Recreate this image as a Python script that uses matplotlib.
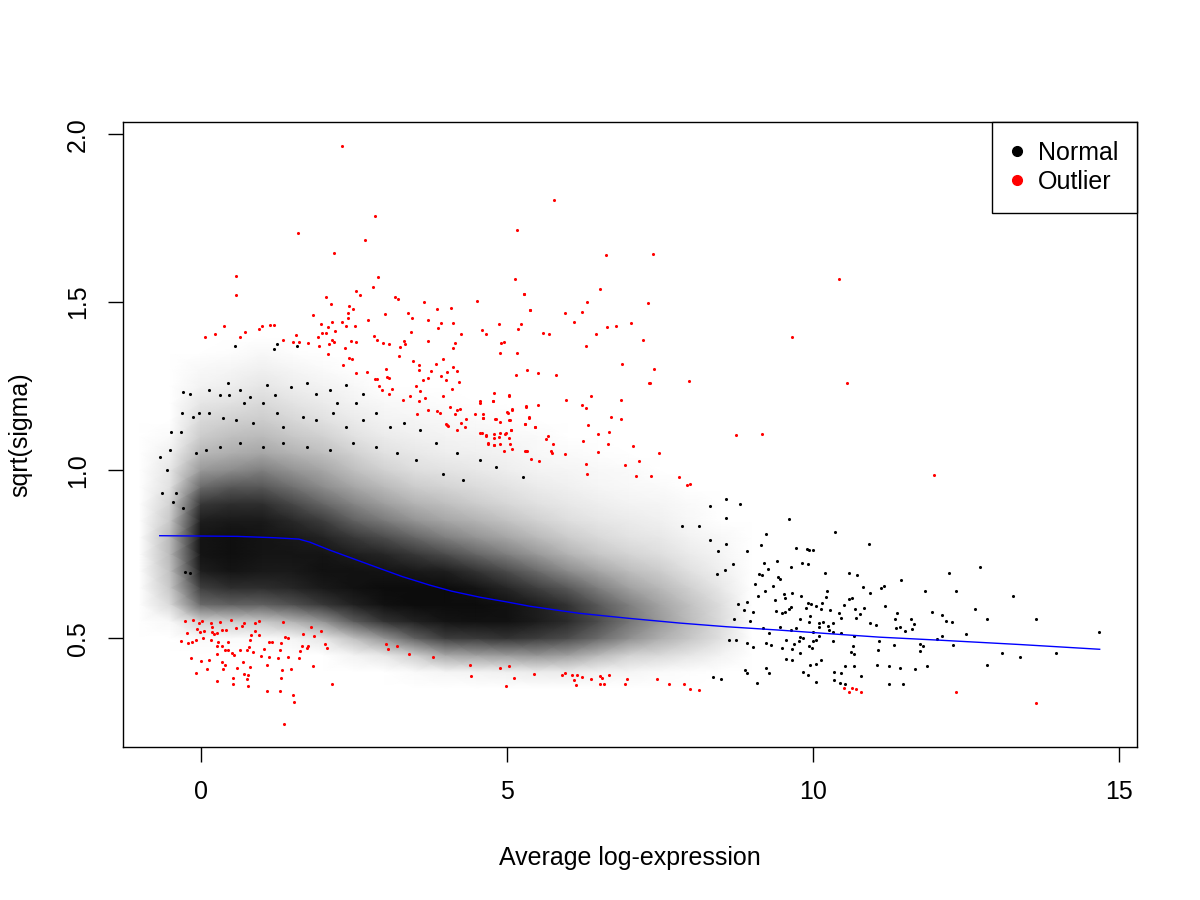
import numpy as np
import matplotlib
matplotlib.use('Agg')
import matplotlib.pyplot as plt
from matplotlib.colors import LinearSegmentedColormap
from matplotlib.lines import Line2D

plt.rcParams['font.family'] = ['Liberation Sans', 'DejaVu Sans']

# ink coverage (percent) of the dense cloud of normal genes
grid_x = [-1.0, -0.5, 0.0, 0.5, 1.0, 1.5, 2.0, 2.5, 3.0, 3.5, 4.0, 4.5,
          5.0, 5.5, 6.0, 6.5, 7.0, 7.5, 8.0, 8.5, 9.0]
grid_y = [0.30, 0.35, 0.40, 0.45, 0.50, 0.55, 0.60, 0.65, 0.70, 0.75, 0.80, 0.85,
          0.90, 0.95, 1.00, 1.05, 1.10, 1.15, 1.20, 1.25, 1.30, 1.35, 1.40]
# one list per grid_x column, bottom (y=0.30) to top (y=1.40)
grid_ink = [
    [0, 0, 0, 0, 0, 0, 0, 0, 0, 0, 0, 0, 0, 0, 0, 0, 0, 0, 0, 0, 0, 0, 0],
    [0, 0, 0, 0, 0, 3, 15, 22, 25, 28, 28, 22, 18, 12, 10, 6, 2, 0, 0, 0, 0, 0, 0],
    [0, 0, 0, 0, 2, 18, 58, 75, 88, 92, 92, 88, 78, 58, 40, 28, 20, 15, 10, 5, 3, 0, 0],
    [0, 0, 0, 0, 2, 20, 62, 82, 92, 94, 94, 90, 82, 66, 45, 32, 25, 18, 12, 7, 4, 1, 0],
    [0, 0, 0, 0, 2, 22, 62, 82, 90, 92, 92, 90, 82, 66, 50, 35, 27, 20, 15, 10, 6, 3, 0],
    [0, 0, 0, 0, 4, 30, 68, 85, 90, 92, 90, 84, 72, 56, 42, 30, 22, 16, 11, 7, 4, 1, 0],
    [0, 0, 0, 0, 10, 42, 78, 90, 93, 92, 86, 76, 60, 45, 35, 25, 18, 12, 8, 5, 2, 0, 0],
    [0, 0, 0, 5, 25, 64, 87, 93, 93, 88, 78, 62, 48, 35, 25, 18, 12, 8, 5, 3, 0, 0, 0],
    [0, 0, 0, 10, 42, 80, 93, 95, 92, 85, 70, 52, 38, 27, 18, 12, 8, 5, 3, 0, 0, 0, 0],
    [0, 0, 2, 20, 62, 87, 95, 95, 90, 78, 60, 42, 30, 20, 13, 9, 6, 4, 2, 0, 0, 0, 0],
    [0, 0, 4, 35, 76, 92, 95, 95, 88, 70, 50, 35, 25, 17, 11, 7, 5, 3, 1, 0, 0, 0, 0],
    [0, 0, 5, 38, 77, 93, 95, 92, 80, 60, 42, 30, 20, 14, 9, 6, 4, 2, 0, 0, 0, 0, 0],
    [0, 0, 6, 40, 80, 93, 93, 85, 70, 50, 35, 24, 16, 11, 7, 5, 3, 1, 0, 0, 0, 0, 0],
    [0, 0, 8, 42, 76, 89, 88, 75, 58, 40, 27, 18, 12, 8, 5, 3, 2, 0, 0, 0, 0, 0, 0],
    [0, 0, 8, 38, 70, 83, 80, 65, 45, 30, 20, 13, 9, 6, 4, 2, 0, 0, 0, 0, 0, 0, 0],
    [0, 0, 5, 28, 58, 70, 65, 50, 35, 22, 15, 10, 7, 4, 3, 1, 0, 0, 0, 0, 0, 0, 0],
    [0, 0, 4, 18, 44, 54, 50, 37, 26, 17, 11, 8, 5, 3, 2, 0, 0, 0, 0, 0, 0, 0, 0],
    [0, 0, 2, 15, 32, 40, 36, 28, 20, 13, 9, 6, 4, 2, 0, 0, 0, 0, 0, 0, 0, 0, 0],
    [0, 0, 1, 10, 22, 26, 24, 18, 12, 8, 5, 3, 2, 0, 0, 0, 0, 0, 0, 0, 0, 0, 0],
    [0, 0, 0, 5, 12, 14, 13, 9, 6, 4, 3, 0, 0, 0, 0, 0, 0, 0, 0, 0, 0, 0, 0],
    [0, 0, 0, 0, 0, 0, 0, 0, 0, 0, 0, 0, 0, 0, 0, 0, 0, 0, 0, 0, 0, 0, 0],
]

# individual normal genes outside the dense cloud
normal_x = [
    -0.29, -0.17, 0.14, 0.31, 0.47, 0.45, 0.64, 0.71, 0.80, 1.02, 1.21, 1.09, 1.48, 1.73,
    1.89, 2.11, 2.38, 2.22, 2.54, 2.65, -0.30, -0.12, -0.02, -0.48, -0.32, 0.14, 0.37, 0.58,
    0.86, 1.24, 1.35, 1.67, 1.89, 2.16, 2.38, 2.65, 2.87, 3.09, 3.33, 3.58, -0.51, -0.67,
    -0.55, -0.64, -0.40, -0.45, -0.29, -0.26, -0.18, -0.07, 0.09, 0.31, 0.64, 1.02, 1.35,
    1.73, 2.11, 2.49, 2.87, 3.20, 3.52, 3.85, 4.18, 4.56, 4.83, 4.29, 3.96, 5.27,
    0.56, 1.24, 1.20, 1.57,
    8.32, 8.58, 8.81, 8.58, 8.14, 7.86, 8.32, 8.59, 8.46, 8.92, 9.23, 9.16, 9.20, 9.41,
    9.12, 9.18, 9.27, 9.44, 8.70, 8.57, 8.44, 9.06, 9.22, 9.35, 9.38, 9.10, 8.92, 8.78,
    8.87, 9.03, 9.40, 8.72, 8.97, 9.19, 9.29, 8.63, 8.75, 8.92, 9.03, 9.24, 9.32, 9.24,
    9.28, 8.89, 8.92, 8.51, 8.37, 9.09,
    9.61, 10.36, 10.92, 9.72, 9.90, 9.94, 10.01, 9.65, 9.83, 9.93, 10.20, 10.59, 10.72,
    12.23, 12.73, 9.47, 11.45, 10.23, 10.83, 10.93, 11.17, 11.12, 11.84, 12.34, 13.28,
    9.53, 9.55, 9.66, 9.81, 10.21, 10.60, 10.64, 10.15, 9.92, 9.97, 10.05, 9.64, 9.62,
    9.89, 10.14, 10.29, 10.43, 10.52, 10.69, 10.84, 11.18, 11.38, 11.95, 12.12, 12.65,
    12.85, 13.65, 14.68, 9.50, 9.55, 9.79, 9.96, 9.94, 10.10, 10.17, 10.25, 10.33, 10.47,
    10.70, 10.78, 10.94, 11.04, 11.35, 11.60, 11.66, 12.18, 12.27, 11.36, 11.43, 11.51,
    11.62, 9.46, 9.65, 9.72, 10.01, 10.11, 10.27, 10.33, 10.46, 10.67, 9.79, 9.85, 10.05,
    10.01, 10.10, 9.57, 9.69, 9.78, 10.33, 11.09, 11.33, 11.75, 11.80, 12.03, 12.11, 12.29,
    12.50, 9.50, 9.67, 9.94, 9.99, 10.66, 11.06, 11.75, 10.63, 10.67, 9.80, 9.56, 9.67,
    10.14, 13.09, 13.39, 13.97, 9.95, 10.06, 10.53, 10.67, 11.05, 11.24, 11.42, 11.67,
    11.87, 12.85, 9.84, 9.93, 10.35, 10.47, 10.79, 10.05, 10.35, 10.45, 10.53, 11.25, 11.47,
]
normal_y = [
    1.233, 1.226, 1.238, 1.223, 1.223, 1.258, 1.238, 1.199, 1.218, 1.199, 1.223, 1.253, 1.248, 1.258,
    1.228, 1.238, 1.253, 1.199, 1.199, 1.228, 1.169, 1.159, 1.169, 1.114, 1.114, 1.169, 1.154, 1.149,
    1.139, 1.169, 1.129, 1.159, 1.149, 1.169, 1.129, 1.149, 1.169, 1.129, 1.139, 1.119, 1.060, 1.038,
    1.002, 0.931, 0.931, 0.906, 0.886, 0.698, 0.693, 1.050, 1.060, 1.070, 1.080, 1.070, 1.080,
    1.070, 1.060, 1.080, 1.070, 1.050, 1.030, 1.080, 1.050, 1.030, 1.010, 0.970, 0.990, 0.980,
    1.369, 1.374, 1.361, 1.371,
    0.894, 0.914, 0.898, 0.858, 0.834, 0.835, 0.791, 0.780, 0.758, 0.760, 0.810, 0.776, 0.724, 0.731,
    0.690, 0.688, 0.706, 0.682, 0.722, 0.703, 0.691, 0.661, 0.641, 0.655, 0.613, 0.625, 0.609, 0.601,
    0.583, 0.579, 0.581, 0.558, 0.552, 0.529, 0.514, 0.496, 0.494, 0.486, 0.474, 0.486, 0.480, 0.410,
    0.395, 0.405, 0.395, 0.378, 0.385, 0.367,
    0.854, 0.815, 0.779, 0.767, 0.764, 0.762, 0.762, 0.712, 0.725, 0.722, 0.693, 0.693, 0.688,
    0.693, 0.711, 0.675, 0.673, 0.641, 0.651, 0.635, 0.656, 0.648, 0.640, 0.639, 0.625,
    0.631, 0.621, 0.634, 0.627, 0.623, 0.616, 0.620, 0.606, 0.605, 0.603, 0.596, 0.593, 0.588,
    0.589, 0.586, 0.583, 0.576, 0.599, 0.586, 0.589, 0.596, 0.576, 0.578, 0.568, 0.586,
    0.557, 0.556, 0.519, 0.576, 0.579, 0.556, 0.567, 0.549, 0.544, 0.549, 0.537, 0.546, 0.559,
    0.559, 0.571, 0.544, 0.539, 0.556, 0.556, 0.541, 0.551, 0.547, 0.529, 0.534, 0.521,
    0.527, 0.534, 0.524, 0.529, 0.519, 0.534, 0.524, 0.519, 0.514, 0.506, 0.504, 0.502, 0.496,
    0.491, 0.506, 0.496, 0.484, 0.492, 0.492, 0.491, 0.481, 0.484, 0.476, 0.499, 0.508, 0.481,
    0.511, 0.472, 0.469, 0.476, 0.470, 0.476, 0.465, 0.463, 0.460, 0.453, 0.455, 0.437, 0.435,
    0.435, 0.457, 0.443, 0.455, 0.420, 0.422, 0.417, 0.417, 0.419, 0.417, 0.411, 0.407,
    0.417, 0.419, 0.400, 0.390, 0.399, 0.395, 0.387, 0.371, 0.377, 0.368, 0.365, 0.365, 0.363,
]

# outlier genes (red)
outlier_x = [
    -0.26, -0.125, -0.22, -0.32, -0.20, -0.136, -0.08, -0.027, 0.016, -0.06, -0.005, 0.06,
    0.04, 0.17, 0.19, 0.18, 0.17, 0.22, 0.27, 0.31, 0.35, 0.29, 0.42, 0.50, 0.58, 0.67,
    0.70, 0.89, 0.95, 0.88, 0.82, 0.96, 0.80, 0.45, 0.26, 0.35, -0.16, 0.005, 0.14, -0.07,
    0.10, 0.26, 0.39, 0.45, 0.51, 0.55, 0.64, 0.76, 0.79, 0.86, 0.35, 0.40, 0.37, 0.59,
    0.69, 0.81, 0.27, 0.52, 0.53, 0.71, 0.76, 0.78, 0.77, 0.98, 1.04, 1.11, 1.08, 1.12,
    1.17, 1.26, 1.31, 1.30, 1.35, 1.38, 1.43, 1.42, 1.33, 1.32, 1.48, 1.08, 1.30, 1.50,
    1.52, 1.36, 1.61, 1.63, 1.66, 1.73, 1.75, 1.67, 1.85, 1.80, 1.97, 2.03, 2.06, 1.84,
    2.15, 3.02, 3.06, 3.20, 3.40, 3.80, 4.40, 4.42,
    2.31, 2.85, 1.59, 2.69, 2.18, 0.58, 0.58, 2.89, 2.82, 2.54, 2.60, 2.05, 2.13, 2.42,
    2.49, 2.41, 2.41, 1.83, 3.18, 3.22, 3.65, 3.86, 3.39, 3.01, 2.73, 3.45, 3.71, 3.92,
    3.87, 3.44, 2.31, 2.15, 1.97, 2.08, 2.38, 2.52, 2.20, 1.98, 2.04, 1.91, 2.14, 2.18,
    2.46, 2.54, 2.36, 2.83, 2.88, 2.98, 3.08, 3.33, 3.34, 3.25, 3.71, 0.07, 0.23, 0.38,
    0.65, 0.72, 0.96, 1.00, 1.13, 1.20, 1.35, 1.51, 1.56, 1.61, 1.75, 1.94, 2.09,
    4.51, 4.09, 5.28, 5.38, 4.13, 4.60, 4.67, 4.26, 4.87, 5.23, 5.19, 4.91, 4.96, 4.16,
    4.13, 4.89, 5.17, 2.42, 2.47, 2.33, 2.08, 2.53, 2.72, 2.84, 2.88, 3.02, 3.04, 3.08,
    2.91, 2.97, 3.07, 3.12, 3.24, 3.47, 3.57, 3.56, 3.64, 3.52, 3.58, 3.67, 3.42, 3.31,
    3.56, 3.72, 3.76, 3.85, 3.96, 3.93, 4.01, 4.02, 4.12, 4.18, 4.22, 4.10, 3.96, 3.71,
    3.53, 3.86, 3.91, 4.07, 4.19, 4.24, 4.16, 4.02, 4.04, 4.25, 4.34, 4.49, 4.56, 4.57,
    4.77, 5.03, 5.02, 5.09, 4.61, 4.81, 4.89, 5.06, 4.56, 4.66, 4.80, 4.87, 4.89, 5.05,
    4.99, 5.07, 5.30, 5.37, 5.31, 5.47, 5.32, 4.80, 4.70, 4.32, 4.18, 4.01,
    4.62, 4.79, 5.03, 4.77, 4.61, 4.82, 5.03, 5.01, 5.09, 5.31, 5.51, 5.36, 5.30, 5.47,
    5.07, 4.59, 4.67, 4.80, 4.89, 4.98, 5.04, 4.70, 4.80, 4.96, 5.08, 5.30, 5.34, 5.40,
    5.52, 5.64, 5.68, 5.75, 5.73, 5.74, 5.96, 5.97, 6.23, 6.29, 6.38, 6.33, 6.25, 6.50,
    6.67, 6.70, 6.87, 6.87, 6.66, 6.50, 6.30, 6.31, 7.07, 7.16, 6.94, 7.11, 7.36, 7.49,
    7.81, 7.95, 7.99, 7.34, 7.98,
    5.78, 5.17, 6.63, 7.39, 5.14, 5.28, 6.52, 6.31, 7.31, 5.38, 5.96, 6.23, 6.10, 5.59,
    5.69, 6.46, 6.64, 6.78, 7.03, 7.22, 6.30, 6.89, 7.41, 5.34, 5.51, 5.16, 5.81, 7.33,
    4.89, 5.03, 5.12, 4.99, 5.45, 5.91, 5.96, 6.07, 6.15, 6.23, 6.10, 6.14, 6.38, 6.53,
    6.55, 6.67, 6.52, 6.59, 6.94, 6.97, 7.46, 7.65, 7.89, 7.99, 8.15,
    8.75, 9.18, 10.43, 9.66, 10.56, 11.98, 10.51, 10.60, 10.65, 10.71, 10.79, 12.34, 13.65,
]
outlier_y = [
    0.550, 0.554, 0.514, 0.493, 0.486, 0.490, 0.494, 0.544, 0.552, 0.526, 0.518, 0.520,
    0.500, 0.546, 0.534, 0.518, 0.494, 0.512, 0.514, 0.548, 0.524, 0.488, 0.524, 0.554, 0.529, 0.536,
    0.546, 0.544, 0.550, 0.520, 0.510, 0.510, 0.496, 0.488, 0.478, 0.478, 0.442, 0.433, 0.434, 0.395,
    0.407, 0.454, 0.466, 0.464, 0.456, 0.450, 0.464, 0.464, 0.474, 0.458, 0.429, 0.419, 0.407, 0.411,
    0.429, 0.413, 0.373, 0.381, 0.363, 0.392, 0.379, 0.357, 0.391, 0.448, 0.468, 0.445, 0.419, 0.488,
    0.490, 0.440, 0.486, 0.466, 0.547, 0.504, 0.502, 0.444, 0.405, 0.383, 0.409, 0.343, 0.343, 0.330,
    0.309, 0.246, 0.440, 0.462, 0.478, 0.472, 0.476, 0.512, 0.506, 0.532, 0.520, 0.482, 0.470, 0.417,
    0.363, 0.484, 0.469, 0.477, 0.453, 0.445, 0.420, 0.387,
    1.964, 1.755, 1.707, 1.685, 1.645, 1.579, 1.520, 1.575, 1.545, 1.532, 1.520, 1.514, 1.495, 1.490,
    1.479, 1.468, 1.454, 1.463, 1.514, 1.508, 1.500, 1.481, 1.469, 1.464, 1.447, 1.454, 1.446, 1.438,
    1.422, 1.410, 1.440, 1.440, 1.435, 1.425, 1.428, 1.429, 1.413, 1.409, 1.409, 1.397, 1.386, 1.380,
    1.383, 1.380, 1.365, 1.400, 1.386, 1.379, 1.374, 1.383, 1.375, 1.367, 1.383, 1.395, 1.404, 1.428,
    1.396, 1.410, 1.420, 1.428, 1.431, 1.431, 1.388, 1.382, 1.401, 1.380, 1.377, 1.371, 1.376,
    1.502, 1.484, 1.523, 1.478, 1.439, 1.418, 1.406, 1.406, 1.434, 1.436, 1.420, 1.378, 1.382, 1.377,
    1.365, 1.350, 1.350, 1.333, 1.331, 1.313, 1.347, 1.289, 1.291, 1.271, 1.271, 1.301, 1.277, 1.275,
    1.251, 1.240, 1.226, 1.242, 1.339, 1.324, 1.314, 1.297, 1.269, 1.250, 1.236, 1.216, 1.222, 1.208,
    1.206, 1.275, 1.295, 1.317, 1.331, 1.281, 1.267, 1.293, 1.307, 1.295, 1.261, 1.242, 1.222, 1.178,
    1.168, 1.176, 1.170, 1.188, 1.180, 1.182, 1.168, 1.134, 1.130, 1.140, 1.152, 1.166, 1.206, 1.200,
    1.206, 1.222, 1.170, 1.180, 1.156, 1.152, 1.144, 1.150, 1.111, 1.103, 1.107, 1.099, 1.079, 1.079,
    1.111, 1.121, 1.136, 1.156, 1.188, 1.129, 1.057, 1.075, 1.079, 1.128, 1.121, 1.136,
    1.166, 1.231, 1.223, 1.205, 1.154, 1.151, 1.149, 1.173, 1.181, 1.191, 1.194, 1.157, 1.137, 1.128,
    1.119, 1.111, 1.104, 1.097, 1.111, 1.109, 1.097, 1.080, 1.075, 1.058, 1.062, 1.058, 1.056, 1.034,
    1.026, 1.094, 1.103, 1.078, 1.058, 1.052, 1.048, 1.210, 1.194, 1.184, 1.222, 1.135, 1.088, 1.107,
    1.114, 1.159, 1.210, 1.152, 1.077, 1.055, 1.017, 0.990, 1.073, 1.028, 1.015, 0.984, 0.982, 1.050,
    0.979, 0.955, 0.958, 1.260, 1.264,
    1.803, 1.716, 1.639, 1.643, 1.570, 1.524, 1.538, 1.499, 1.497, 1.478, 1.469, 1.472, 1.442, 1.407,
    1.406, 1.405, 1.425, 1.428, 1.439, 1.386, 1.369, 1.315, 1.300, 1.299, 1.290, 1.282, 1.282, 1.259,
    0.410, 0.418, 0.383, 0.357, 0.392, 0.390, 0.397, 0.389, 0.389, 0.385, 0.375, 0.360, 0.380, 0.387,
    0.383, 0.389, 0.363, 0.365, 0.363, 0.378, 0.378, 0.363, 0.365, 0.350, 0.347,
    1.106, 1.109, 1.568, 1.395, 1.260, 0.986, 0.353, 0.340, 0.353, 0.350, 0.340, 0.339, 0.306,
]

# lowess trend of sqrt(sigma) on average log-expression
trend_x = [-0.67, 0.0, 0.6, 1.2, 1.6, 1.78, 2.11, 2.5, 2.92, 3.3, 3.74, 4.1, 4.56, 5.0,
           5.38, 5.8, 6.19, 7.0, 7.83, 8.6, 9.46, 10.3, 11.1, 12.08, 13.4, 14.69]
trend_y = [0.805, 0.804, 0.803, 0.799, 0.795, 0.786, 0.762, 0.736, 0.708, 0.683, 0.658, 0.640,
           0.622, 0.608, 0.595, 0.584, 0.574, 0.559, 0.545, 0.534, 0.524, 0.513, 0.503, 0.494,
           0.481, 0.467]

fig = plt.figure(figsize=(12, 9), dpi=100)
ax = fig.add_axes([0.1025, 0.1703, 0.845, 0.6941])

gx, gy = np.meshgrid(grid_x, grid_y)
ink = np.array(grid_ink, dtype=float).T / 100.0
ink_cmap = LinearSegmentedColormap.from_list('ink', ['white', 'black'])
ax.pcolormesh(gx, gy, ink, shading='gouraud', cmap=ink_cmap, vmin=0, vmax=1, zorder=1)

ax.scatter(normal_x, normal_y, s=5, c='black', linewidths=0, zorder=2)
ax.scatter(outlier_x, outlier_y, s=5, c='red', linewidths=0, zorder=3)
ax.plot(trend_x, trend_y, color='blue', linewidth=1.0, zorder=4)

ax.set_xlim(-1.27, 15.30)
ax.set_ylim(0.177, 2.036)
ax.set_xticks([0, 5, 10, 15])
ax.set_yticks([0.5, 1.0, 1.5, 2.0])
ax.set_yticklabels(['0.5', '1.0', '1.5', '2.0'], rotation=90, va='center')
ax.tick_params(axis='both', direction='out', length=11, width=1.0, labelsize=18, pad=13)
for sp in ax.spines.values():
    sp.set_linewidth(1.0)
ax.set_xlabel('Average log-expression', fontsize=18, labelpad=30)
ax.set_ylabel('sqrt(sigma)', fontsize=18, labelpad=24)

handles = [Line2D([], [], marker='o', linestyle='', color='black', markersize=7),
           Line2D([], [], marker='o', linestyle='', color='red', markersize=7)]
leg = ax.legend(handles, ['Normal', 'Outlier'], loc='upper right', bbox_to_anchor=(1, 1),
                borderaxespad=0, fancybox=False, framealpha=1, edgecolor='black',
                fontsize=18, handletextpad=0.6, labelspacing=0.2, borderpad=0.75,
                handlelength=0.5)
leg.get_frame().set_linewidth(1.0)

fig.savefig('out.png', dpi=100)
